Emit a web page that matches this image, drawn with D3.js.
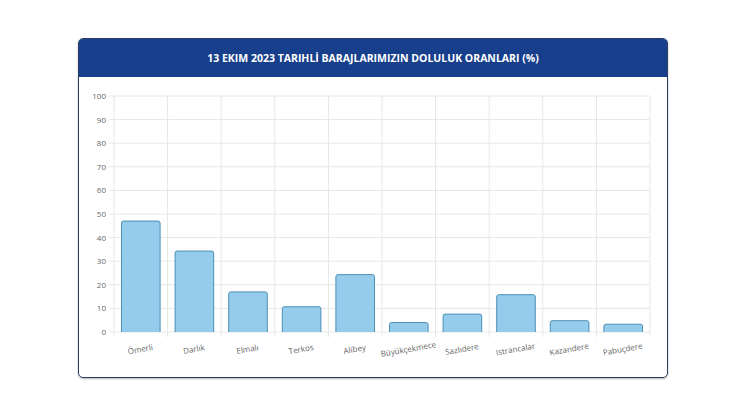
<!DOCTYPE html>
<html><head><meta charset="utf-8">
<script src="https://cdn.jsdelivr.net/npm/d3@7"></script>
<style>
body{margin:0;background:#fff;font-family:"Open Sans",Arial,sans-serif}
.card{position:absolute;left:78px;top:38px;width:588px;height:338px;border:1px solid #2b3f63;border-radius:5px;overflow:hidden;box-shadow:0 1px 2px rgba(0,0,0,.3)}
.head{height:38px;background:#173f8c;color:#fff;font-size:10.5px;font-weight:bold;text-align:center;line-height:38px}
svg{position:absolute;left:0;top:0}
</style></head><body>
<div class="card"><div class="head">13 EKIM 2023 TARIHLİ BARAJLARIMIZIN DOLULUK ORANLARI (%)</div></div>
<svg id="c" width="750" height="414"></svg>
<script>
const dams = ['Ömerli','Darlık','Elmalı','Terkos','Alibey','Büyükçekmece','Sazlıdere','Istrancalar','Kazandere','Pabuçdere'];
const levels = [47, 34.3, 17, 10.7, 24.3, 4, 7.6, 15.8, 4.8, 3.3];
const yTicks = [0,10,20,30,40,50,60,70,80,90,100];

const svg = d3.select('#c');
const plotLeft = 114, plotRight = 650, plotTop = 96, plotBottom = 332;
const x = d3.scaleBand().domain(dams).range([plotLeft, plotRight]).paddingInner(0.28).paddingOuter(0.14);
const xg = d3.scaleBand().domain(dams).range([plotLeft, plotRight]);
const y = d3.scaleLinear().domain([0, 100]).range([plotBottom, plotTop]);

// Grid
svg.append('g').selectAll('line').data(yTicks).join('line')
  .attr('x1', plotLeft - 5).attr('x2', plotRight).attr('y1', d => y(d)).attr('y2', d => y(d))
  .attr('stroke', '#e6e6e6');
svg.append('g').selectAll('line').data(dams).join('line')
  .attr('x1', d => xg(d)).attr('x2', d => xg(d)).attr('y1', plotTop).attr('y2', plotBottom + 5)
  .attr('stroke', '#e6e6e6');
svg.append('line').attr('x1', plotRight).attr('x2', plotRight).attr('y1', plotTop).attr('y2', plotBottom + 5).attr('stroke', '#e6e6e6');

// Y labels
svg.append('g').selectAll('text').data(yTicks).join('text')
  .attr('x', plotLeft - 8).attr('y', d => y(d) + 3).attr('text-anchor', 'end')
  .attr('font-size', 8).attr('fill', '#666').text(d => d);

// Bars
svg.append('g').selectAll('path').data(levels).join('path')
  .attr('d', (d, i) => {
    const x0 = x(dams[i]), w = x.bandwidth(), y0 = y(d), r = 2;
    return `M${x0},${plotBottom}V${y0 + r}Q${x0},${y0} ${x0 + r},${y0}H${x0 + w - r}Q${x0 + w},${y0} ${x0 + w},${y0 + r}V${plotBottom}`;
  })
  .attr('fill', '#95cbeb').attr('stroke', '#4a90b8').attr('stroke-width', 1);

// X labels
svg.append('g').selectAll('text').data(dams).join('text')
  .attr('transform', d => `translate(${x(d) + x.bandwidth() / 2},${plotBottom + 20}) rotate(-10)`)
  .attr('text-anchor', 'middle').attr('font-size', 8).attr('fill', '#666').text(d => d);
</script></body></html>
